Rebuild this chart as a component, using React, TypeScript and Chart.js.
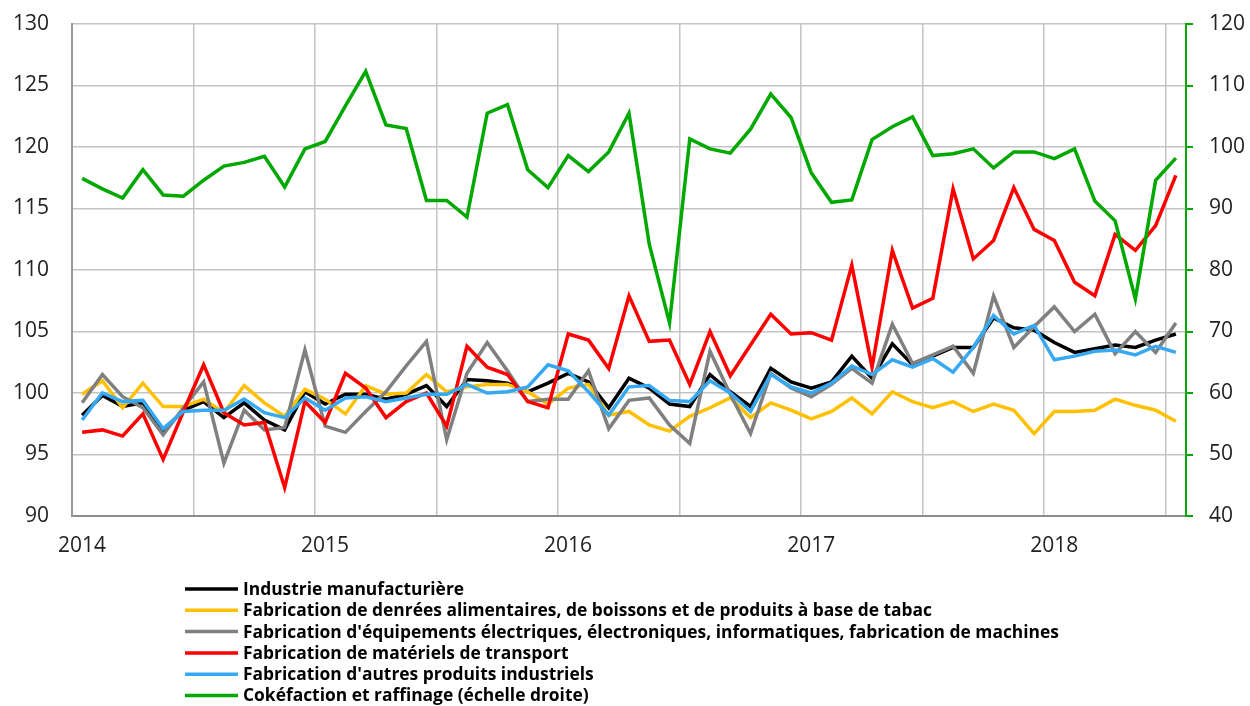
import React, { useEffect, useRef } from 'react';
import { Chart, registerables } from 'chart.js';

Chart.register(...registerables);

// Monthly data, January 2014 to July 2018 (55 months)
const yearLabels = ['2014', '2015', '2016', '2017', '2018'];
const gridMonths = [0, 6, 12, 18, 24, 30, 36, 42, 48, 54];

const industrie = [
  98.2, 99.8, 98.9, 99.2, 96.9, 98.6, 99.3, 98.0, 99.2, 97.8,
  97.0, 100.1, 99.1, 99.9, 99.9, 99.5, 99.9, 100.6, 98.9,
  101.1, 101.0, 100.8, 100.1, 100.8, 101.6, 100.9, 98.8, 101.2, 100.4,
  99.1, 98.9, 101.5, 100.1, 98.9, 102.0, 100.9, 100.4, 100.9,
  103.0, 101.2, 104.0, 102.3, 103.0, 103.7, 103.7, 106.1, 105.3,
  105.1, 104.1, 103.3, 103.6, 103.9, 103.7, 104.3, 104.8,
];
const alimentaires = [
  99.9, 101.0, 98.8, 100.8, 98.9, 98.9, 99.5, 98.4, 100.6, 99.2,
  98.1, 100.3, 99.5, 98.3, 100.6, 99.9, 100.0, 101.5, 100.1,
  100.5, 100.7, 100.7, 100.1, 99.1, 100.4, 100.7, 98.2, 98.5, 97.4,
  96.9, 98.1, 98.8, 99.6, 98.0, 99.2, 98.6, 97.9, 98.5,
  99.6, 98.3, 100.1, 99.3, 98.8, 99.3, 98.5, 99.1, 98.6,
  96.7, 98.5, 98.5, 98.6, 99.5, 99.0, 98.6, 97.7,
];
const electriques = [
  99.2, 101.5, 99.7, 98.8, 96.6, 98.8, 100.9, 94.3, 98.6, 97.0,
  97.2, 103.5, 97.3, 96.8, 98.5, 100.1, 102.2, 104.2, 96.2,
  101.6, 104.1, 101.8, 99.3, 99.5, 99.5, 101.8, 97.1, 99.4, 99.6,
  97.4, 95.9, 103.4, 99.9, 96.7, 101.6, 100.4, 99.7, 100.7,
  102.0, 100.8, 105.6, 102.4, 103.1, 103.8, 101.6, 107.9, 103.7,
  105.4, 107.0, 105.0, 106.4, 103.2, 105.0, 103.3, 105.7,
];
const transport = [
  96.8, 97.0, 96.5, 98.3, 94.6, 98.5, 102.3, 98.4, 97.4, 97.6,
  92.3, 99.3, 97.6, 101.6, 100.4, 98.0, 99.3, 100.0, 97.3,
  103.8, 102.1, 101.5, 99.3, 98.8, 104.8, 104.3, 102.0, 107.9, 104.2,
  104.3, 100.7, 105.0, 101.4, 103.9, 106.4, 104.8, 104.9, 104.3,
  110.4, 102.1, 111.6, 106.9, 107.7, 116.6, 110.9, 112.4, 116.7,
  113.3, 112.4, 109.0, 107.9, 112.9, 111.6, 113.6, 117.7,
];
const autres = [
  97.8, 100.0, 99.3, 99.4, 97.1, 98.5, 98.6, 98.6, 99.5, 98.4,
  98.0, 99.6, 98.6, 99.6, 99.7, 99.3, 99.6, 99.9, 99.9,
  100.7, 100.0, 100.1, 100.5, 102.3, 101.8, 100.1, 98.2, 100.5, 100.6,
  99.4, 99.3, 101.0, 100.0, 98.5, 101.5, 100.5, 100.0, 100.8,
  102.2, 101.5, 102.7, 102.1, 102.8, 101.7, 103.7, 106.3, 104.8,
  105.5, 102.7, 103.0, 103.4, 103.5, 103.1, 103.8, 103.3,
];
const cokefaction = [
  94.9, 93.2, 91.7, 96.3, 92.2, 92.0, 94.6, 96.9, 97.5, 98.5,
  93.5, 99.7, 100.9, 106.7, 112.3, 103.6, 103.0, 91.3, 91.3,
  88.6, 105.5, 106.9, 96.3, 93.4, 98.6, 96.0, 99.2, 105.5, 84.2,
  71.4, 101.3, 99.7, 99.0, 102.9, 108.6, 104.8, 95.8, 91.0,
  91.4, 101.2, 103.3, 104.9, 98.6, 98.9, 99.7, 96.6, 99.2,
  99.2, 98.1, 99.7, 91.2, 88.0, 75.3, 94.6, 98.2,
];

const seriesNames = [
  'Industrie manufacturière',
  'Fabrication de denrées alimentaires, de boissons et de produits à base de tabac',
  "Fabrication d'équipements électriques, électroniques, informatiques, fabrication de machines",
  'Fabrication de matériels de transport',
  "Fabrication d'autres produits industriels",
  'Cokéfaction et raffinage (échelle droite)',
];
const seriesValues = [industrie, alimentaires, electriques, transport, autres, cokefaction];
const seriesColors = ['#000000', '#FFC000', '#808080', '#FF0000', '#37A9F2', '#00A800'];
const seriesAxes = ['y', 'y', 'y', 'y', 'y', 'y1'];

const FONT = "'Open Sans', 'Noto Sans', sans-serif";

const rowLegend = {
  id: 'rowLegend',
  afterDraw(chart: any) {
    const ctx = chart.ctx;
    ctx.save();
    ctx.font = `bold 17.4px ${FONT}`;
    ctx.textBaseline = 'middle';
    ctx.textAlign = 'left';
    chart.data.datasets.forEach((ds: any, k: number) => {
      const y = 589 + k * 21.3;
      ctx.strokeStyle = ds.borderColor;
      ctx.lineWidth = 3.5;
      ctx.beginPath();
      ctx.moveTo(185, y);
      ctx.lineTo(238, y);
      ctx.stroke();
      ctx.fillStyle = '#000';
      ctx.fillText(ds.label, 243, y + 1);
    });
    ctx.restore();
  },
};

export default function App() {
  const ref = useRef<HTMLCanvasElement | null>(null);

  useEffect(() => {
    if (!ref.current) return;
    Chart.defaults.font.family = FONT;
    const datasets = seriesValues.map((vals, k) => ({
      label: seriesNames[k],
      data: vals.map((v, i) => ({ x: i + 0.5, y: v })),
      borderColor: seriesColors[k],
      backgroundColor: seriesColors[k],
      borderWidth: 3.5,
      pointRadius: 0,
      tension: 0,
      yAxisID: seriesAxes[k],
      order: seriesValues.length - k,
    }));
    const chart = new Chart(ref.current, {
      type: 'line',
      data: { datasets },
      plugins: [rowLegend],
      options: {
        animation: false,
        responsive: false,
        layout: { padding: { top: 24, bottom: 150, left: 0, right: 0 } },
        plugins: { legend: { display: false }, tooltip: { enabled: false } },
        scales: {
          x: {
            type: 'linear',
            min: 0,
            max: 55,
            afterBuildTicks: (s: any) => {
              s.ticks = gridMonths.map((v) => ({ value: v }));
            },
            afterFit: (s: any) => {
              s.height = 40;
              s.paddingLeft = 0;
              s.paddingRight = 0;
            },
            grid: { color: '#c4c4c4', lineWidth: 1.5, drawTicks: false },
            border: { color: '#8c8c8c', width: 2 },
            ticks: {
              autoSkip: false,
              maxRotation: 0,
              padding: 17,
              labelOffset: 10,
              color: '#222',
              font: { size: 21 },
              callback: (v: any) => (Number(v) % 12 === 0 ? yearLabels[Number(v) / 12] : ''),
            },
          },
          y: {
            position: 'left',
            min: 90,
            max: 130,
            afterFit: (s: any) => {
              s.width = 72;
              s.paddingTop = 0;
              s.paddingBottom = 0;
            },
            grid: { color: '#c4c4c4', lineWidth: 1.5, drawTicks: false },
            border: { color: '#999999', width: 2 },
            ticks: { stepSize: 5, padding: 23, color: '#222', font: { size: 21 } },
          },
          y1: {
            position: 'right',
            min: 40,
            max: 120,
            afterFit: (s: any) => {
              s.width = 64;
              s.paddingTop = 0;
              s.paddingBottom = 0;
            },
            grid: { drawOnChartArea: false, color: '#00A800', lineWidth: 2, tickLength: 7 },
            border: { color: '#00A800', width: 2 },
            ticks: { stepSize: 10, padding: 16, color: '#222', font: { size: 21 } },
          },
        },
      },
    } as any);
    return () => chart.destroy();
  }, []);

  return (
    <div style={{ position: 'absolute', left: 0, top: 0, width: 1250, height: 706 }}>
      <canvas ref={ref} width={1250} height={706} />
    </div>
  );
}
